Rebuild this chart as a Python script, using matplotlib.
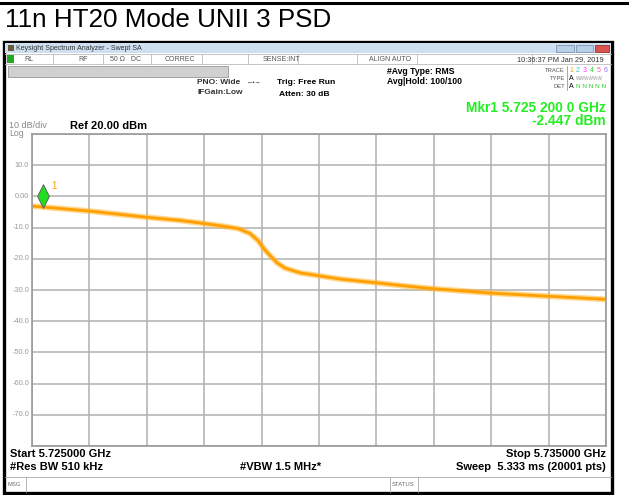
import matplotlib
matplotlib.use("Agg")
import matplotlib.pyplot as plt
from matplotlib.patches import Rectangle
from matplotlib.lines import Line2D

plt.rcParams['font.family'] = ['Liberation Sans', 'DejaVu Sans']

W, H = 629, 495

# ---- trace data (offset from start in MHz, level in dBm) ----
freq_mhz = [0.0, 0.5, 1.0, 1.5, 2.0, 2.58, 3.0, 3.28, 3.59, 3.80, 3.94, 4.04,
            4.15, 4.27, 4.41, 4.67, 5.02, 5.37, 6.0, 6.5, 7.0, 7.5, 8.0, 8.5,
            9.0, 9.5, 10.0]
level_dbm = [-3.1, -3.9, -4.7, -5.7, -6.7, -7.7, -8.7, -9.4, -10.3, -11.9, -14.2, -16.8,
             -19.0, -21.3, -23.0, -24.5, -25.5, -26.5, -27.7, -28.7, -29.6, -30.3, -31.0, -31.5,
             -32.0, -32.5, -33.0]
span_mhz = 10.0
ref_level = 20.0
ytick_vals = [10, 0, -10, -20, -30, -40, -50, -60, -70]
ytick_labels = ["10.0", "0.00", "-10.0", "-20.0", "-30.0", "-40.0", "-50.0", "-60.0", "-70.0"]
mkr_mhz = 0.2
mkr_dbm = 0.0


def fx(x):
    return x / W


def fy(y):
    return 1 - y / H


def rect(x0, y0, x1, y1, fc="none", ec="none", lw=1.0, z=1):
    fig.add_artist(Rectangle((fx(x0), fy(y1)), fx(x1) - fx(x0), fy(y0) - fy(y1),
                             facecolor=fc, edgecolor=ec, linewidth=lw, zorder=z,
                             transform=fig.transFigure))


def hline(y, x0, x1, c="k", lw=1.0):
    fig.add_artist(Line2D([fx(x0), fx(x1)], [fy(y), fy(y)], color=c, lw=lw,
                          transform=fig.transFigure))


def vline(x, y0, y1, c="k", lw=1.0):
    fig.add_artist(Line2D([fx(x), fx(x)], [fy(y0), fy(y1)], color=c, lw=lw,
                          transform=fig.transFigure))


def txt(x, y, s, size=6, c="k", ha="left", va="center", weight="normal"):
    fig.text(fx(x), fy(y), s, fontsize=size, color=c, ha=ha, va=va, weight=weight)


fig = plt.figure(figsize=(W / 100, H / 100), dpi=100)
fig.patch.set_facecolor("white")

# title box
hline(3, 0, W, lw=2.2)
txt(5, 20, "11n HT20 Mode UNII 3 PSD", size=18.7)

# window frame
rect(4, 42, 612, 493, fc="white", ec="black", lw=2.4, z=0)
rect(5, 43, 611, 53, fc="#cddff0", z=1)
rect(8, 45, 14, 51, fc="#6b5a3a", z=2)
txt(16, 48, "Keysight Spectrum Analyzer - Swept SA", size=5.0, c="#333333")
rect(556, 45, 574, 52, fc="#b9cfe6", ec="#7d95b5", lw=0.6, z=2)
rect(576, 45, 593, 52, fc="#b9cfe6", ec="#7d95b5", lw=0.6, z=2)
rect(595, 45, 609, 52, fc="#d9534f", ec="#9b3030", lw=0.6, z=2)

# status row
hline(54, 5, 611, c="#bbbbbb", lw=0.6)
hline(64, 5, 611, c="#bbbbbb", lw=0.6)
for xs in [53, 103, 151, 202, 248, 298, 357, 417, 532]:
    vline(xs, 54, 64, c="#bbbbbb", lw=0.6)
rect(7, 55, 14, 63, fc="#22aa22", z=2)
txt(24, 59.5, "RL", size=5, c="#555555")
txt(78, 59.5, "RF", size=5, c="#555555")
txt(110, 59.5, "50 Ω   DC", size=5, c="#555555")
txt(165, 59.5, "CORREC", size=5, c="#555555")
txt(263, 59.5, "SENSE:INT", size=5, c="#555555")
txt(369, 59.5, "ALIGN AUTO", size=5, c="#555555")
txt(604, 59.5, "10:36:37 PM Jan 29, 2019", size=5.3, c="#333333", ha="right")
rect(8, 66, 228, 77, fc="#d0d0d0", ec="#999999", lw=0.6, z=1)

# settings header
txt(197, 83, "PNO: Wide", size=6, weight="bold", c="#333333")
txt(197, 92, "IFGain:Low", size=6, weight="bold", c="#333333")
txt(247, 83, "←•→", size=4.5, c="#333333")
txt(277, 82, "Trig: Free Run", size=6.1, weight="bold")
txt(279, 94, "Atten: 30 dB", size=6.1, weight="bold")
txt(387, 71, "#Avg Type: RMS", size=6.2, weight="bold")
txt(387, 81, "Avg|Hold: 100/100", size=6.2, weight="bold")
txt(565, 70, "TRACE", size=4.2, c="#555555", ha="right")
txt(565, 78, "TYPE", size=4.2, c="#555555", ha="right")
txt(565, 86, "DET", size=4.2, c="#555555", ha="right")
vline(567, 66, 90, c="#999999", lw=0.6)
trace_cols = ["#ff9900", "#22cccc", "#ff33ff", "#33cc33", "#ff66aa", "#9966ff"]
for i, col in enumerate(trace_cols):
    txt(569 + i * 7, 70, str(i + 1), size=5, c=col)
txt(569, 78, "A", size=5)
txt(576, 78, "WWWWWW", size=3.4, c="#999999")
txt(569, 86, "A", size=5)
txt(576, 86, "N N N N N", size=4.6, c="#33cc33")
txt(606, 108, "Mkr1 5.725 200 0 GHz", size=9.9, weight="bold", c="#22ee22", ha="right")
txt(606, 121, "-2.447 dBm", size=9.9, weight="bold", c="#22ee22", ha="right")
txt(9, 126, "10 dB/div", size=6.5, c="#888888")
txt(70, 126, "Ref 20.00 dBm", size=8, weight="bold")
txt(9, 133.5, "Log", size=6.3, c="#888888")

# plot area
L, R, T, B = 32, 606, 134, 446
ax = fig.add_axes([fx(L), fy(B), fx(R) - fx(L), fy(T) - fy(B)])
ax.set_xlim(0, span_mhz)
ax.set_ylim(ref_level - 100, ref_level)
ax.set_xticks([i for i in range(11)])
ax.set_yticks([ref_level - 10 * i for i in range(11)])
ax.grid(True, color="#b0b0b0", lw=1.1)
ax.tick_params(length=0, labelleft=False, labelbottom=False)
for sp in ax.spines.values():
    sp.set_color("#999999")
    sp.set_linewidth(1.2)
ax.plot(freq_mhz, level_dbm, color="#ffb733", lw=4.2, alpha=0.55, solid_capstyle="butt")
ax.plot(freq_mhz, level_dbm, color="#ffa000", lw=2.0, solid_capstyle="butt")
for v, s in zip(ytick_vals, ytick_labels):
    ax.text(-0.05, v, s, fontsize=5.3, color="#999999", ha="right", va="center", clip_on=False)
diamond = [(0, 1), (0.5, 0), (0, -1), (-0.5, 0), (0, 1)]
ax.plot([mkr_mhz], [mkr_dbm], marker=diamond, ms=17, mfc="#22dd22", mec="#555555", mew=0.6,
        clip_on=False, zorder=5)
ax.text(mkr_mhz + 0.13, mkr_dbm + 2.3, "1", fontsize=7, color="#ff9f00")

# footer
txt(10, 454, "Start 5.725000 GHz", size=8, weight="bold")
txt(10, 467, "#Res BW 510 kHz", size=8, weight="bold")
txt(240, 467, "#VBW 1.5 MHz*", size=8, weight="bold")
txt(606, 454, "Stop 5.735000 GHz", size=8, weight="bold", ha="right")
txt(606, 467, "Sweep  5.333 ms (20001 pts)", size=8, weight="bold", ha="right")
hline(477, 5, 611, c="#aaaaaa", lw=0.6)
vline(26, 477, 492, c="#aaaaaa", lw=0.6)
vline(390, 477, 492, c="#aaaaaa", lw=0.6)
vline(418, 477, 492, c="#aaaaaa", lw=0.6)
txt(8, 485, "MSG", size=4.2, c="#666666")
txt(392, 485, "STATUS", size=4.2, c="#666666")

fig.savefig("out.png", dpi=100)
